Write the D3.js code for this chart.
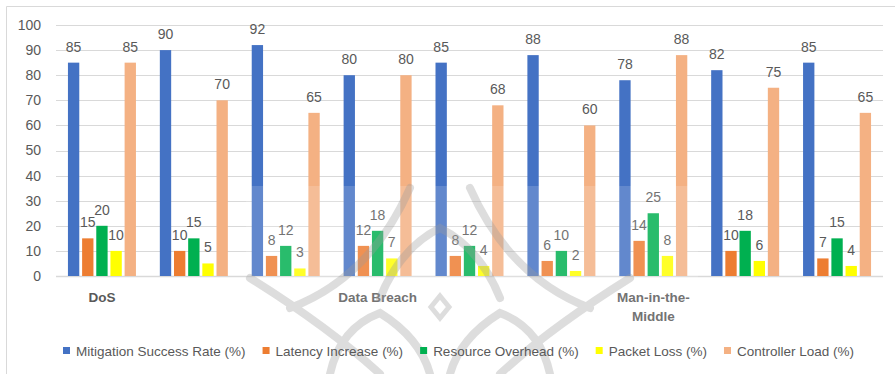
<!DOCTYPE html>
<html>
<head>
<meta charset="utf-8">
<script src="https://cdn.jsdelivr.net/npm/d3@7"></script>
<style>
  html, body { margin: 0; padding: 0; background: #fff; }
  svg { display: block; }
  text { font-family: "Liberation Sans", Arial, sans-serif; fill: #595959; }
</style>
</head>
<body>
<svg id="chart" width="895" height="374"></svg>
<script>
// Attack scenarios (only some groups carry a visible label)
const categories = ["DoS", "", "", "Data Breach", "", "", "Man-in-the-Middle", "", ""];
const seriesNames = [
  "Mitigation Success Rate (%)",
  "Latency Increase (%)",
  "Resource Overhead (%)",
  "Packet Loss (%)",
  "Controller Load (%)"
];
const mitigationSuccess = [85, 90, 92, 80, 85, 88, 78, 82, 85];
const latencyIncrease   = [15, 10, 8, 12, 8, 6, 14, 10, 7];
const resourceOverhead  = [20, 15, 12, 18, 12, 10, 25, 18, 15];
const packetLoss        = [10, 5, 3, 7, 4, 2, 8, 6, 4];
const controllerLoad    = [85, 70, 65, 80, 68, 60, 88, 75, 65];
const yTicks = [0, 10, 20, 30, 40, 50, 60, 70, 80, 90, 100];

const seriesValues = [mitigationSuccess, latencyIncrease, resourceOverhead, packetLoss, controllerLoad];
const colors = ["#4472C4", "#ED7D31", "#00B050", "#FFFF00", "#F4B183"];

const svg = d3.select("#chart");
const W = 895, H = 374;
const plot = { left: 56, right: 883, top: 25, bottom: 276 };

// chart frame
svg.append("path")
  .attr("d", `M6.5,${H} V6.5 H${W}`)
  .attr("fill", "none").attr("stroke", "#d9d9d9").attr("stroke-width", 1);

const x0 = d3.scaleBand().domain(d3.range(categories.length))
  .range([plot.left, plot.right]).paddingInner(0).paddingOuter(0);
const x1 = d3.scaleBand().domain(d3.range(seriesNames.length))
  .range([x0.bandwidth() * 0.13, x0.bandwidth() * 0.87]).paddingInner(0.2);
const y = d3.scaleLinear().domain([0, 100]).range([plot.bottom, plot.top]);

// gridlines
svg.append("g").selectAll("line").data(yTicks).join("line")
  .attr("x1", plot.left).attr("x2", plot.right)
  .attr("y1", d => Math.round(y(d)) + 0.5).attr("y2", d => Math.round(y(d)) + 0.5)
  .attr("stroke", "#d9d9d9").attr("stroke-width", d => d === 0 ? 1.5 : 1);

// y axis labels
const yAxis = d3.axisLeft(y).tickValues(yTicks).tickSize(0).tickPadding(0);
const gy = svg.append("g").attr("transform", "translate(41,0)").call(yAxis);
gy.select(".domain").remove();
gy.selectAll("text").style("font-size", "14px").attr("fill", "#595959")
  .style("font-family", '"Liberation Sans", Arial, sans-serif');

// bars
const rows = categories.map((c, i) => ({ i, vals: seriesValues.map(s => s[i]) }));
const groups = svg.append("g").selectAll("g").data(rows).join("g")
  .attr("transform", d => `translate(${x0(d.i)},0)`);
groups.selectAll("rect").data(d => d.vals.map((v, k) => ({ v, k }))).join("rect")
  .attr("x", d => x1(d.k)).attr("width", x1.bandwidth())
  .attr("y", d => y(d.v)).attr("height", d => y(0) - y(d.v))
  .attr("fill", d => colors[d.k]);
groups.selectAll("text").data(d => d.vals.map((v, k) => ({ v, k }))).join("text")
  .attr("x", d => x1(d.k) + x1.bandwidth() / 2)
  .attr("y", d => y(d.v) - 11)
  .attr("text-anchor", "middle").style("font-size", "14px")
  .text(d => d.v);

// category labels (wrapped on hyphen when long)
svg.append("g").selectAll("text").data(rows.filter(r => categories[r.i])).join("text")
  .attr("text-anchor", "middle").style("font-size", "13.5px").style("font-weight", "bold")
  .attr("x", d => x0(d.i) + x0.bandwidth() / 2)
  .attr("y", 302)
  .each(function (d) {
    const label = categories[d.i];
    const lines = label.length > 12 ? ["Man-in-the-", "Middle"] : [label];
    const t = d3.select(this);
    lines.forEach((ln, j) => t.append("tspan")
      .attr("x", x0(d.i) + x0.bandwidth() / 2).attr("dy", j ? 19 : 0).text(ln));
  });

// soft emblem in the background of the lower middle area
const wm = svg.append("g").attr("pointer-events", "none");
wm.append("rect").attr("x", 246).attr("y", 186).attr("width", 452).attr("height", H - 186)
  .attr("fill", "#ffffff").attr("opacity", 0.16);
const cx = 440, cy = 318;
const orn = wm.append("g").attr("fill", "none").attr("stroke", "#9a9a9a")
  .attr("stroke-opacity", 0.34).attr("stroke-width", 8).attr("stroke-linecap", "round");
orn.append("path").attr("d",
  `M${cx - 150},${cy - 10} Q${cx - 70},${cy - 40} ${cx - 30},${cy - 130}` +
  `M${cx + 150},${cy - 10} Q${cx + 70},${cy - 40} ${cx + 30},${cy - 130}` +
  `M${cx - 190},${cy - 40} Q${cx - 110},${cy + 10} ${cx - 60},${cy + 56}` +
  `M${cx + 190},${cy - 40} Q${cx + 110},${cy + 10} ${cx + 60},${cy + 56}` +
  `M${cx - 60},${cy - 20} Q${cx - 40},${cy - 70} ${cx},${cy - 90} Q${cx + 40},${cy - 70} ${cx + 60},${cy - 20}` +
  `M${cx - 110},${cy + 56} Q${cx - 100},${cy + 10} ${cx - 60},${cy - 5} Q${cx - 20},${cy + 20} ${cx - 10},${cy + 56}` +
  `M${cx + 110},${cy + 56} Q${cx + 100},${cy + 10} ${cx + 60},${cy - 5} Q${cx + 20},${cy + 20} ${cx + 10},${cy + 56}`);
orn.append("path").attr("stroke-width", 5).attr("d",
  `M${cx},${cy - 22} L${cx + 9},${cy - 11} L${cx},${cy} L${cx - 9},${cy - 11} Z`);

// legend
const legend = svg.append("g").attr("transform", "translate(0,351)");
let lx = 63;
seriesNames.forEach((name, k) => {
  legend.append("rect").attr("x", lx).attr("y", -4).attr("width", 7).attr("height", 7)
    .attr("fill", colors[k]);
  const t = legend.append("text").attr("x", lx + 13).attr("y", 5)
    .style("font-size", "13.5px").text(name);
  lx += 13 + t.node().getComputedTextLength() + 17;
});
</script>
</body>
</html>
